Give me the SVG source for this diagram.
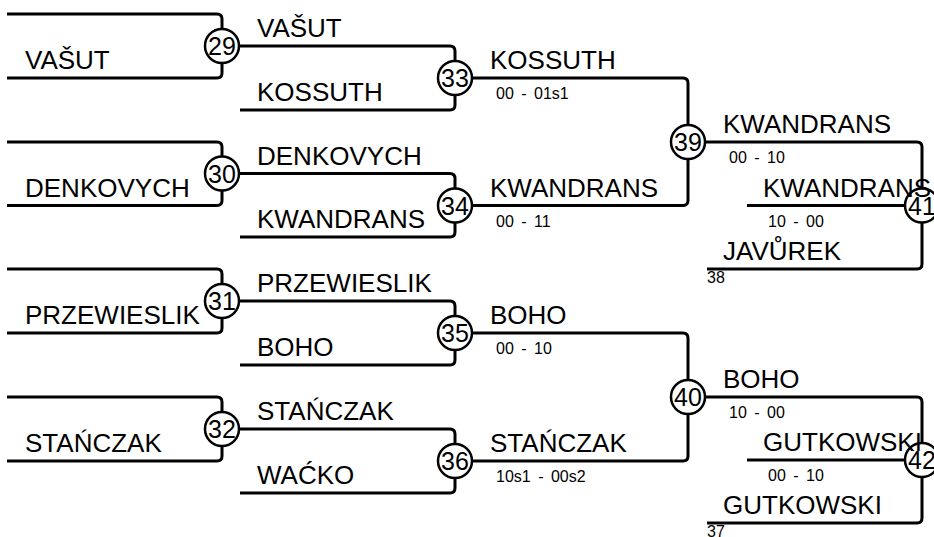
<svg xmlns="http://www.w3.org/2000/svg" width="934" height="537" viewBox="0 0 934 537">
<style>
.c{fill:none;stroke:#000;stroke-width:3}
.n circle{fill:#fff;stroke:#000;stroke-width:2.5}
.n text{font-family:"Liberation Sans",Arial,sans-serif;font-size:25px;text-anchor:middle;fill:#000}
.t{font-family:"Liberation Sans",Arial,sans-serif;font-size:26px;fill:#000}
.s{font-family:"Liberation Sans",Arial,sans-serif;font-size:16px;word-spacing:3px;fill:#000}
.m{font-family:"Liberation Sans",Arial,sans-serif;font-size:16px;fill:#000}
</style>
<rect width="934" height="537" fill="#fff"/>
<g id="connectors">
<path class="c" d="M7 14H217Q222 14 222 19V73Q222 78 217 78H7"/>
<path class="c" d="M7 142H217Q222 142 222 147V200.5Q222 205.5 217 205.5H7"/>
<path class="c" d="M7 269H217Q222 269 222 274V328Q222 333 217 333H7"/>
<path class="c" d="M7 397H217Q222 397 222 402V456Q222 461 217 461H7"/>
<path class="c" d="M222 46H450Q455 46 455 51V105Q455 110 450 110H240"/>
<path class="c" d="M222 173.5H450Q455 173.5 455 178.5V232Q455 237 450 237H240"/>
<path class="c" d="M222 301H450Q455 301 455 306V360Q455 365 450 365H240"/>
<path class="c" d="M222 429H450Q455 429 455 434V488Q455 493 450 493H240"/>
<path class="c" d="M455 78H683Q688 78 688 83V200.5Q688 205.5 683 205.5H455"/>
<path class="c" d="M455 333H683Q688 333 688 338V456Q688 461 683 461H455"/>
<path class="c" d="M688 142H917Q922 142 922 147V264Q922 269 917 269H707"/>
<path class="c" d="M747 205.5H922"/>
<path class="c" d="M688 397H917Q922 397 922 402V518Q922 523 917 523H707"/>
<path class="c" d="M747 460H922"/>
</g>
<g id="m29" class="n"><circle cx="222" cy="46" r="17"/><text x="222" y="55">29</text></g>
<g id="m30" class="n"><circle cx="222" cy="173.5" r="17"/><text x="222" y="182.5">30</text></g>
<g id="m31" class="n"><circle cx="222" cy="301" r="17"/><text x="222" y="310">31</text></g>
<g id="m32" class="n"><circle cx="222" cy="429" r="17"/><text x="222" y="438">32</text></g>
<g id="m33" class="n"><circle cx="455" cy="78" r="17"/><text x="455" y="87">33</text></g>
<g id="m34" class="n"><circle cx="455" cy="205.5" r="17"/><text x="455" y="214.5">34</text></g>
<g id="m35" class="n"><circle cx="455" cy="333" r="17"/><text x="455" y="342">35</text></g>
<g id="m36" class="n"><circle cx="455" cy="461" r="17"/><text x="455" y="470">36</text></g>
<g id="m39" class="n"><circle cx="688" cy="142" r="17"/><text x="688" y="151">39</text></g>
<g id="m40" class="n"><circle cx="688" cy="397" r="17"/><text x="688" y="406">40</text></g>
<g id="m41" class="n"><circle cx="922" cy="205.5" r="17"/><text x="922" y="214.5">41</text></g>
<g id="m42" class="n"><circle cx="922" cy="460" r="17"/><text x="922" y="469">42</text></g>
<g id="labels">
<text class="t" x="25" y="69">VAŠUT</text>
<text class="t" x="25" y="196.5">DENKOVYCH</text>
<text class="t" x="25" y="324">PRZEWIESLIK</text>
<text class="t" x="25" y="452">STAŃCZAK</text>
<text class="t" x="257" y="37">VAŠUT</text>
<text class="t" x="257" y="101">KOSSUTH</text>
<text class="t" x="257" y="164.5">DENKOVYCH</text>
<text class="t" x="257" y="228">KWANDRANS</text>
<text class="t" x="257" y="292">PRZEWIESLIK</text>
<text class="t" x="257" y="356">BOHO</text>
<text class="t" x="257" y="420">STAŃCZAK</text>
<text class="t" x="257" y="484">WAĆKO</text>
<text class="t" x="490" y="69">KOSSUTH</text>
<text class="s" x="496" y="99">00 - 01s1</text>
<text class="t" x="490" y="196.5">KWANDRANS</text>
<text class="s" x="496" y="226.5">00 - 11</text>
<text class="t" x="490" y="324">BOHO</text>
<text class="s" x="496" y="354">00 - 10</text>
<text class="t" x="490" y="452">STAŃCZAK</text>
<text class="s" x="496" y="482">10s1 - 00s2</text>
<text class="t" x="723" y="133">KWANDRANS</text>
<text class="s" x="729" y="163">00 - 10</text>
<text class="t" x="763" y="196.5">KWANDRANS</text>
<text class="s" x="768" y="226.5">10 - 00</text>
<text class="t" x="723" y="260">JAVŮREK</text>
<text class="m" x="707" y="283">38</text>
<text class="t" x="723" y="388">BOHO</text>
<text class="s" x="729" y="418">10 - 00</text>
<text class="t" x="763" y="451">GUTKOWSKI</text>
<text class="s" x="768" y="481">00 - 10</text>
<text class="t" x="723" y="514">GUTKOWSKI</text>
<text class="m" x="707" y="537">37</text>
</g>
</svg>
